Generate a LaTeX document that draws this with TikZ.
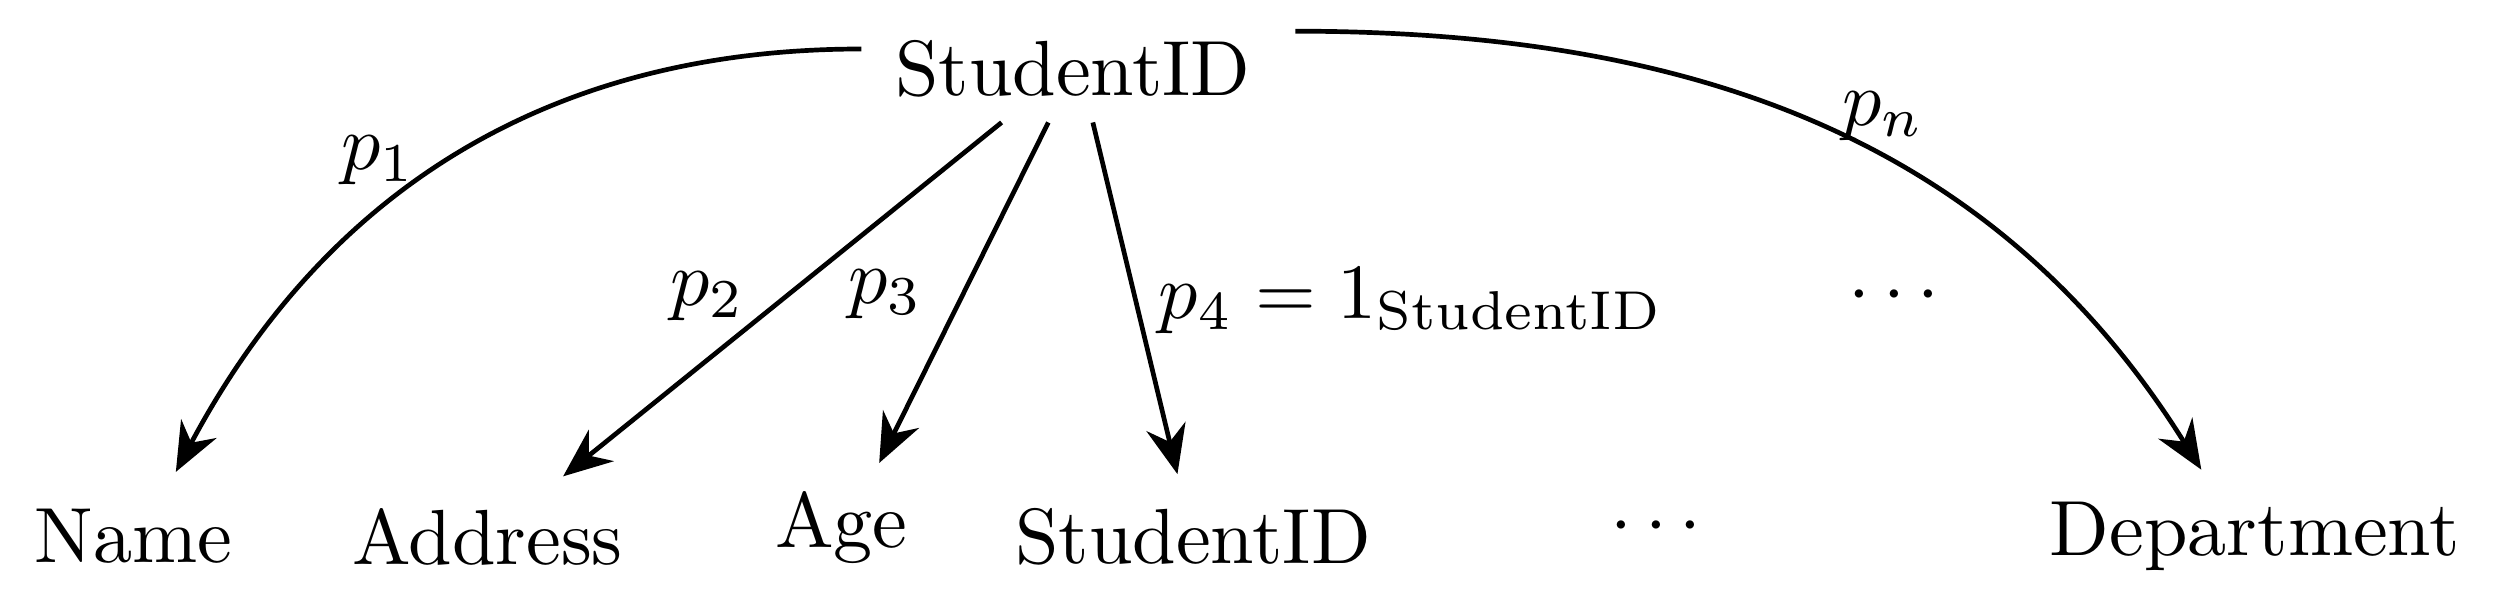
\documentclass[tikz,border=0pt]{standalone}
\usetikzlibrary{arrows.meta}
\begin{document}
\begin{tikzpicture}[
  lab/.style={inner sep=0pt},
  arr/.style={-{Stealth[length=2.2mm,width=1.8mm]},semithick}]
\useasboundingbox (0,0) rectangle (11.25,2.70);
\node[lab] (top) at (4.82,2.39) {StudentID};
\node[lab] (name) at (0.60,0.29) {Name};
\node[lab] (addr) at (2.19,0.29) {Address};
\node[lab] (age) at (3.78,0.33) {Age};
\node[lab] (sid) at (5.36,0.29) {StudentID};
\node[lab] (dotsb) at (7.44,0.33) {$\cdots$};
\node[lab] (dep) at (10.13,0.29) {Department};
\node[lab] (dotsm) at (8.51,1.37) {$\cdots$};
\node[lab] (l1) at (1.70,1.98) {$p_1$};
\node[lab] (l2) at (3.18,1.37) {$p_2$};
\node[lab] (l3) at (3.98,1.38) {$p_3$};
\node[lab,anchor=west] (l4) at (5.20,1.35) {$p_4=1_{\mathrm{StudentID}}$};
\node[lab] (ln) at (8.46,2.18) {$p_n$};
\draw[arr] ([xshift=-0.95cm,yshift=0.09cm]top.center) to[out=180,in=62] ([xshift=0.19cm,yshift=0.29cm]name.center);
\draw[arr] ([xshift=-0.32cm,yshift=-0.24cm]top.center) -- ([xshift=0.34cm,yshift=0.27cm]addr.center);
\draw[arr] ([xshift=-0.11cm,yshift=-0.24cm]top.center) -- ([xshift=0.17cm,yshift=0.29cm]age.center);
\draw[arr] ([xshift=0.09cm,yshift=-0.24cm]top.center) -- ([xshift=-0.07cm,yshift=0.28cm]sid.center);
\draw[arr] ([xshift=1.00cm,yshift=0.17cm]top.center) to[out=0,in=122] ([xshift=-0.24cm,yshift=0.30cm]dep.center);
\end{tikzpicture}
\end{document}
